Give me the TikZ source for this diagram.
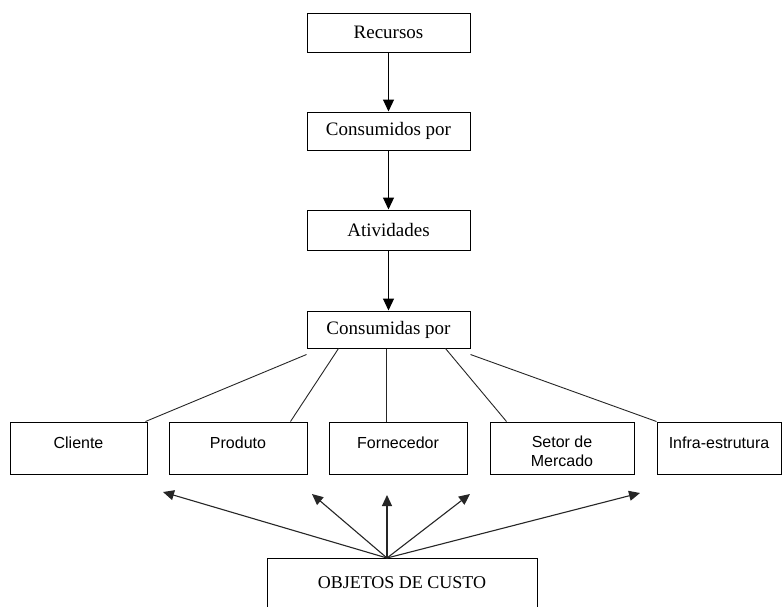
\documentclass[tikz,border=0pt]{standalone}
\usepackage{fontspec}
\setmainfont{Liberation Serif}
\newfontfamily\arialf{Liberation Sans}
\usetikzlibrary{arrows.meta}
\begin{document}
\begin{tikzpicture}[x=1pt,y=-1pt,
  topbox/.style={draw,line width=1pt,minimum width=163pt,inner sep=0pt,font=\fontsize{19}{21}\selectfont},
  botbox/.style={draw,line width=1pt,minimum height=52pt,inner sep=0pt,text height=10pt,text depth=10pt,font=\arialf\fontsize{16}{20}\selectfont},
  flow/.style={line width=1.1pt,-{Triangle[length=12pt,width=11pt]}},
  link/.style={line width=0.9pt,draw=black!85},
  objarrow/.style={line width=1.1pt,draw=black!85,-{Triangle[length=11pt,width=10pt]}}]
\clip (0,0) rectangle (784,606);
\fill[white] (0,0) rectangle (784,606);
% top chain
\node[topbox,minimum height=39pt] (rec) at (388.5,32.5) {Recursos};
\node[topbox,minimum height=38pt] (con) at (388.5,131) {Consumidos por};
\node[topbox,minimum height=40pt] (ati) at (388.5,230) {Atividades};
\node[topbox,minimum height=37pt] (cpo) at (388.5,329.5) {Consumidas por};
\draw[flow] (rec) -- (con);
\draw[flow] (con) -- (ati);
\draw[flow] (ati) -- (cpo);
% cost objects
\node[botbox,minimum width=137pt] (cli) at (78.5,448) {Cliente};
\node[botbox,minimum width=138pt] (pro) at (238,448) {Produto};
\node[botbox,minimum width=138pt] (forn) at (398,448) {Fornecedor};
\node[botbox,minimum width=144pt,align=center,text height=,text depth=] (set) at (562,448) {\rule{0pt}{19pt}Setor de\\[-1pt]Mercado};
\node[botbox,minimum width=124pt] (inf) at (719,448) {Infra-estrutura};
% links from Consumidas por
\draw[link] ([yshift=-6pt]cpo.south west) -- ([xshift=-2pt]cli.north east);
\draw[link] ([xshift=32pt]cpo.south west) -- ([xshift=-17pt]pro.north east);
\draw[link] ([xshift=-2pt]cpo.south) -- ([xshift=-2pt]cpo.south |- forn.north);
\draw[link] ([xshift=-25pt]cpo.south east) -- ([xshift=17pt]set.north west);
\draw[link] ([yshift=-6pt]cpo.south east) -- (inf.north west);
% objetos de custo
\node[draw,line width=1pt,anchor=north,minimum width=270pt,minimum height=62pt,inner sep=0pt,text height=13pt,text depth=15pt,font=\fontsize{18}{20}\selectfont] (obj) at (402,558) {OBJETOS DE CUSTO};
\coordinate (src) at ([xshift=-15pt]obj.north);
\coordinate (tcli) at (163,492);
\coordinate (tpro) at (312,494);
\coordinate (tforn) at (387,495);
\coordinate (tset) at (470,494);
\coordinate (tinf) at (640,493);
\draw[objarrow] (src) -- (tcli);
\draw[objarrow] (src) -- (tpro);
\draw[objarrow] (src) -- (tforn);
\draw[objarrow] (src) -- (tset);
\draw[objarrow] (src) -- (tinf);
\end{tikzpicture}
\end{document}
